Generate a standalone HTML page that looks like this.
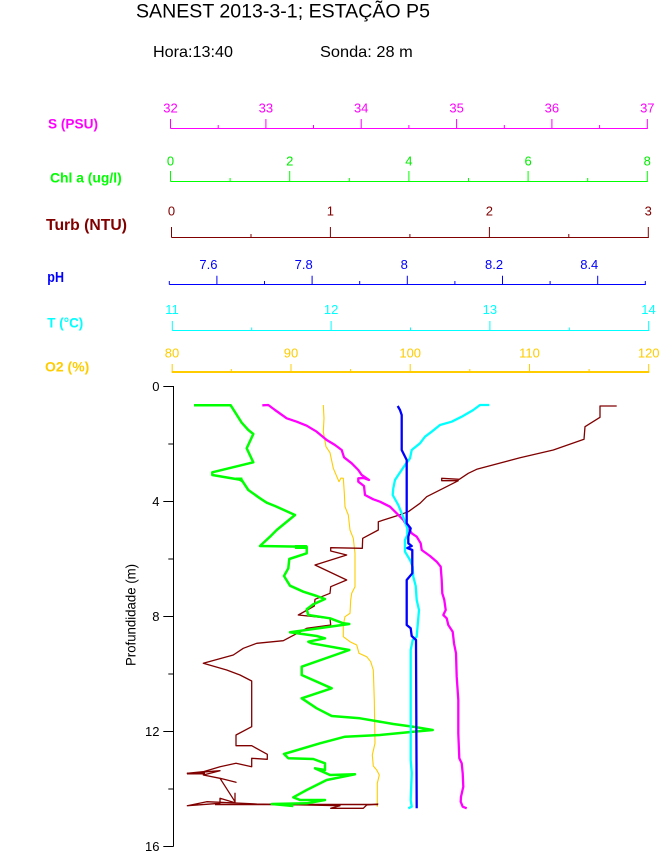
<!DOCTYPE html>
<html><head><meta charset="utf-8"><style>
html,body{margin:0;padding:0;background:#fff;}
svg{display:block;}
text{font-family:"Liberation Sans",Arial,sans-serif;}
.b{font-weight:bold;}
</style></head><body>
<svg width="660" height="854" viewBox="0 0 660 854" xmlns="http://www.w3.org/2000/svg">
<rect width="660" height="854" fill="#fff"/>
<!-- Title -->
<text x="136" y="17.5" font-size="19.5" fill="#000" textLength="294" lengthAdjust="spacingAndGlyphs">SANEST 2013-3-1; ESTAÇÃO P5</text>
<text x="153" y="57" font-size="16" fill="#000" textLength="80" lengthAdjust="spacingAndGlyphs">Hora:13:40</text>
<text x="320" y="57" font-size="16" fill="#000" textLength="92.7" lengthAdjust="spacingAndGlyphs">Sonda: 28 m</text>

<!-- Axis titles -->
<text class="b" x="48" y="128.3" font-size="14" fill="#ff00ff" textLength="50" lengthAdjust="spacingAndGlyphs">S (PSU)</text>
<text class="b" x="50" y="182.3" font-size="14" fill="#00ff00" textLength="71.7" lengthAdjust="spacingAndGlyphs">Chl a (ug/l)</text>
<text class="b" x="46" y="230" font-size="16" fill="#800000" textLength="81" lengthAdjust="spacingAndGlyphs">Turb (NTU)</text>
<text class="b" x="47.3" y="282" font-size="14.5" fill="#0000ff" textLength="16.7" lengthAdjust="spacingAndGlyphs">pH</text>
<text class="b" x="47.3" y="327.7" font-size="14" fill="#00ffff" textLength="36" lengthAdjust="spacingAndGlyphs">T (°C)</text>
<text class="b" x="45" y="371.7" font-size="14" fill="#ffcc00" textLength="44.3" lengthAdjust="spacingAndGlyphs">O2 (%)</text>

<!-- S axis -->
<g stroke="#ff00ff" stroke-width="1" fill="none">
<line x1="170.5" y1="128.5" x2="647.8" y2="128.5"/>
<path d="M170.5 119V128.5M265.9 119V128.5M361.2 119V128.5M456.6 119V128.5M551.9 119V128.5M647.3 119V128.5M218.2 125V128.5M313.5 125V128.5M408.9 125V128.5M504.3 125V128.5M599.6 125V128.5"/>
</g>
<g font-size="13" fill="#ff00ff" text-anchor="middle">
<text x="170.5" y="112.5">32</text><text x="265.9" y="112.5">33</text><text x="361.2" y="112.5">34</text><text x="456.6" y="112.5">35</text><text x="551.9" y="112.5">36</text><text x="647.3" y="112.5">37</text>
</g>

<!-- Chl axis -->
<g stroke="#00ff00" stroke-width="1" fill="none">
<line x1="170.5" y1="181.5" x2="647.8" y2="181.5"/>
<path d="M170.5 171V181.5M289.7 171V181.5M408.9 171V181.5M528.1 171V181.5M647.3 171V181.5M230.1 178V181.5M349.3 178V181.5M468.5 178V181.5M587.7 178V181.5"/>
</g>
<g font-size="13" fill="#00ee00" text-anchor="middle">
<text x="170.5" y="165.5">0</text><text x="289.7" y="165.5">2</text><text x="408.9" y="165.5">4</text><text x="528.1" y="165.5">6</text><text x="647.3" y="165.5">8</text>
</g>

<!-- Turb axis -->
<g stroke="#800000" stroke-width="1" fill="none">
<line x1="171.5" y1="237.5" x2="648.8" y2="237.5"/>
<path d="M171.5 227V237.5M330.4 227V237.5M489.4 227V237.5M648.3 227V237.5M251 234V237.5M409.9 234V237.5M568.8 234V237.5"/>
</g>
<g font-size="13" fill="#800000" text-anchor="middle">
<text x="171.5" y="215.7">0</text><text x="330.4" y="215.7">1</text><text x="489.4" y="215.7">2</text><text x="648.3" y="215.7">3</text>
</g>

<!-- pH axis -->
<g stroke="#0000ff" stroke-width="1" fill="none">
<line x1="169.3" y1="284.5" x2="645.8" y2="284.5"/>
<path d="M216.9 275.7V284.5M312.1 275.7V284.5M407.3 275.7V284.5M502.5 275.7V284.5M597.7 275.7V284.5M169.3 281V284.5M264.5 281V284.5M359.7 281V284.5M454.9 281V284.5M550.1 281V284.5M645.3 281V284.5"/>
</g>
<g font-size="13" fill="#0000ff" text-anchor="end">
<text x="217.5" y="269">7.6</text><text x="312.7" y="269">7.8</text><text x="407.9" y="269">8</text><text x="503.1" y="269">8.2</text><text x="598.3" y="269">8.4</text>
</g>

<!-- T axis -->
<g stroke="#00ffff" stroke-width="1" fill="none">
<line x1="172.3" y1="330.5" x2="649.2" y2="330.5"/>
<path d="M172.3 321V330.5M331.1 321V330.5M489.9 321V330.5M648.7 321V330.5M251.7 327.5V330.5M410.5 327.5V330.5M569.3 327.5V330.5"/>
</g>
<g font-size="13" fill="#00ffff" text-anchor="middle">
<text x="172" y="314">11</text><text x="331.1" y="314">12</text><text x="489.9" y="314">13</text><text x="648.5" y="314">14</text>
</g>

<!-- O2 axis -->
<g stroke="#ffcc00" fill="none">
<line x1="171.7" y1="372" x2="649.2" y2="372" stroke-width="2"/>
<path stroke-width="1" d="M172.2 364V372M291 364V372M410.2 364V372M529.5 364V372M648.7 364V372M231.3 369V372M350.6 369V372M469.8 369V372M589.1 369V372"/>
</g>
<g font-size="13" fill="#ffcc00" text-anchor="middle">
<text x="172" y="357.7">80</text><text x="291" y="357.7">90</text><text x="410.2" y="357.7">100</text><text x="529.5" y="357.7">110</text><text x="648.7" y="357.7">120</text>
</g>

<!-- Depth axis -->
<g stroke="#000" stroke-width="1" fill="none">
<line x1="173.5" y1="386" x2="173.5" y2="846.5"/>
<path d="M163.3 386.5H173.5M163.3 501.5H173.5M163.3 616.5H173.5M163.3 731.5H173.5M163.3 846.5H173.5M168.3 444H173.5M168.3 559H173.5M168.3 674H173.5M168.3 789H173.5"/>
</g>
<g font-size="13" fill="#000" text-anchor="end">
<text x="159.5" y="390.8">0</text><text x="159.5" y="505.8">4</text><text x="159.5" y="620.8">8</text><text x="159.5" y="735.8">12</text><text x="159.5" y="850.8">16</text>
</g>
<text x="0" y="0" font-size="14" fill="#000" text-anchor="middle" transform="translate(135.5 615) rotate(-90)" textLength="102" lengthAdjust="spacingAndGlyphs">Profundidade (m)</text>

<!-- Series -->
<g fill="none" stroke-linejoin="round">
<!-- O2 -->
<polyline stroke="#ffcc00" stroke-width="1.1" points="323.3,405 324,418.3 323.3,431.7 326,446.7 330,452.7 333.3,468.3 339,481.7 341,478 343.3,478.3 344.3,492.7 345,506.7 348.3,515 350,530 353.3,538.3 355,553.3 355,586.7 351.7,593.3 350.7,600 350,613.3 345,616.7 343.3,625 343.3,636.7 350,641.7 356.7,645 359,653.3 366.7,656.7 370.7,661.7 373.3,670 374.3,700 375,743.3 372.3,755 373.3,766 376.7,770 379.3,775 377.3,783.3 377.3,806.7"/>
<!-- Turb -->
<polyline stroke="#800000" stroke-width="1.3" points="616.7,406 600,406 600,417.3 585,426.7 584,439.3 553.3,450 520,457.7 476.7,469.3 468.3,473.3 459.3,479.3 441.7,478.3 441.7,480.7 458.3,480.7 443.3,488.3 426.7,496.7 420,503.3 408.3,511.7 399.3,515 378.3,521.7 378.3,530 362.7,538.3 362.3,548.3 330.7,547.7 330.7,551 346.7,555 315,565 346.7,580 330.7,586.7 330,593.3 315,599.3 314.3,606 298.3,615 330,618.3 330.7,625 306.7,628.3 283.3,640.7 256.7,643.3 243.3,648.3 233.3,655 203.3,663.3 226.7,670 240,675 251.7,681 251.7,726.7 236,735 236,745.7 251.7,745.7 267.3,754.3 267.3,759.3 251.7,758.3 251.7,766.7 236,763.3 220,766.7 203.3,771.7 187.3,773.3 220,770.7 203.3,775 220,778.3 236,782.3 220,778.3 235,801.7 235,793.3 235,802.7 220,798.3 220,803.3 187.3,805.7 206.7,801.7 256.7,804 340,805.7 330.7,808.3 363.3,808.3 366.7,805 378.3,804"/>
<line x1="187" y1="773.5" x2="205" y2="773.5" stroke="#800000" stroke-width="2"/>
<line x1="215" y1="804.5" x2="378" y2="804.5" stroke="#800000" stroke-width="1.6"/>
<!-- Chl a -->
<polyline stroke="#00ff00" stroke-width="2.5" points="194,405.3 230.7,405.3 241.7,422.7 248.3,430 253.3,434 246.7,448.3 253.3,462.3 212.3,472.3 212.3,475 241.7,480 248.3,490 260,498.3 266.7,502.7 275,506 295,515 276.7,530 270,536.7 260,546 306.7,546.7 306.7,553.3 289.3,559 288.3,568.3 284,576 290,585.7 303.3,591.7 316.7,596 325,599 313.3,604.3 306.7,609.3 308.3,615 330,618.3 343.3,623.3 349.3,624 290,632.3 316.7,636 325,638.3 308.3,641.7 311.7,643.3 349.3,650 301.7,666.7 301.7,675 331.7,688.3 301.7,698.3 316.7,708.3 331.7,716 360,718.3 393.3,724 413.3,726.7 432.7,730 413.3,731.7 380,735 345,736.7 320,743.3 284,754 288.3,758.3 313.3,759 325,763.3 325,770 315,768.3 330,775 355,774.3 326.7,780 306.7,790 293.3,797.3 300,800 325,800 306.7,803.3 271.7,804 293.3,806"/>
<polygon points="236,478 242,478 242,482" fill="#00ff00" stroke="#00ff00" stroke-width="1"/>
<rect x="295" y="545" width="12" height="4" fill="#00ff00" stroke="none"/>
<!-- Salinity -->
<polyline stroke="#ff00ff" stroke-width="2.3" points="262.3,405.3 268.3,405 275,410 286.7,418.3 296.7,421.7 306.7,425.7 316.7,431.7 326.7,440 335,445 341.7,450 344,457.3 351.7,463.3 358.3,470 361.7,475 369,480 364,478 358.3,478.3 358.3,481.7 364,486 365,495 373.3,499.3 380,501.7 390,506.7 396.7,513.3 403.3,520 411.7,533.3 416.7,536.7 420.7,543.3 421.7,550 430,556 436.7,561.7 440.7,566.7 441.7,580 442.3,593.3 444.3,600 445.7,610 443.3,615 446.7,618.3 448.3,625 452.7,631.7 454,643.3 456,653.3 456.7,676.7 458.3,700 458.3,733.3 459.3,758.3 461.7,763.3 462.7,773.3 463.3,786.7 461,796.7 460.7,801.7 462.7,806.7 466.7,808.3"/>
<!-- Temperature -->
<polyline stroke="#00ffff" stroke-width="2.3" points="489.3,405 480,405 473.3,410 461.7,416.7 451.7,421.7 440,425 431.7,431.7 425,436.7 420,443.3 411.7,450 410,458.3 405,465 398.3,475 395,480 393.3,488.3 392.7,495 398.3,505 401.7,513.3 405,521.7 407.3,528.3 407.3,535 405,540 405,551.7 410,560 412.7,566.7 413.3,576.7 415.7,586 416.7,600 419,610 417.7,625 416.7,636.7 412.7,640 410.7,650 410.7,760 411.7,773 410.7,800 411.7,806.7 408.3,808.3"/>
<!-- pH -->
<polyline stroke="#0000ff" stroke-width="2.3" points="397.7,406 400,410 401.7,415 401.7,450 406.7,460 406.7,523.3 410.7,528.3 408.3,536.7 408.3,543.3 411.7,546 407.3,548 412.3,550 412.3,573.3 406.7,580 406.7,625 410.7,628.3 411.7,636 416,640 416.7,808.3"/>
</g>
</svg>
</body></html>
